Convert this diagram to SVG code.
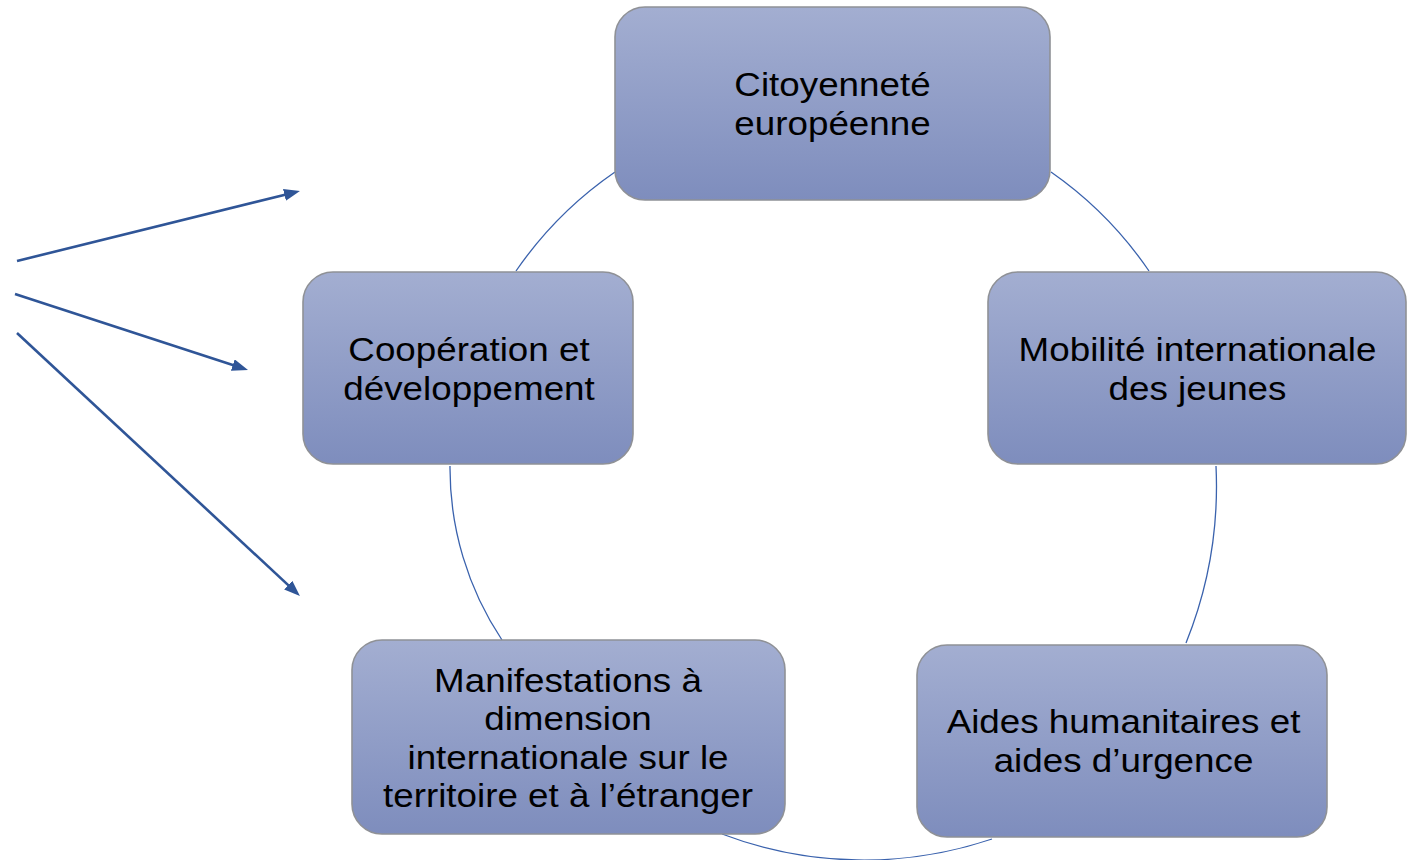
<svg xmlns="http://www.w3.org/2000/svg" width="1412" height="860" viewBox="0 0 1412 860">
<style>
.box{fill:url(#g);stroke:#8f9196;stroke-width:1.6}
.t{font-family:"Liberation Sans",Arial,sans-serif;font-size:33px;fill:#000;text-anchor:middle}
.arc{fill:none;stroke:#3a62ad;stroke-width:1.3}
.arr{fill:none;stroke:#2f5597;stroke-width:2.6;marker-end:url(#ah)}
</style>
<defs>
<linearGradient id="g" x1="0" y1="0" x2="0" y2="1">
<stop offset="0" stop-color="#a3aed1"/>
<stop offset="1" stop-color="#7e8dbd"/>
</linearGradient>
<marker id="ah" markerWidth="17" markerHeight="13" refX="8" refY="6" orient="auto" markerUnits="userSpaceOnUse">
<path d="M0,0 L16,6 L0,12 z" fill="#2f5597"/>
</marker>
</defs>
<g id="connectors">
<path class="arc" d="M516,271 A385,385 0 0 1 615,172"/>
<path class="arc" d="M1051,172 A385,385 0 0 1 1149,271"/>
<path class="arc" d="M1216,466 A420,420 0 0 1 1186,643"/>
<path class="arc" d="M992,839 A400,400 0 0 1 722,834"/>
<path class="arc" d="M502,640 A310,310 0 0 1 450,466"/>
<line class="arr" x1="17" y1="261" x2="292.2" y2="192.9"/>
<line class="arr" x1="15" y1="294" x2="240.4" y2="367.5"/>
<line class="arr" x1="17" y1="333" x2="294.1" y2="590.6"/>
</g>
<g id="n1">
<rect class="box" x="615" y="7" width="435" height="193" rx="30"/>
<g transform="translate(832.5,0) scale(1.115,1)">
<text class="t" x="0" y="96">Citoyenneté</text>
<text class="t" x="0" y="135">européenne</text>
</g>
</g>
<g id="n2">
<rect class="box" x="988" y="272" width="418" height="192" rx="30"/>
<g transform="translate(1197.5,0) scale(1.115,1)">
<text class="t" x="0" y="361">Mobilité internationale</text>
<text class="t" x="0" y="400">des jeunes</text>
</g>
</g>
<g id="n3">
<rect class="box" x="917" y="645" width="410" height="192" rx="30"/>
<g transform="translate(1123.5,0) scale(1.115,1)">
<text class="t" x="0" y="733">Aides humanitaires et</text>
<text class="t" x="0" y="772">aides d’urgence</text>
</g>
</g>
<g id="n4">
<rect class="box" x="352" y="640" width="433" height="194" rx="30"/>
<g transform="translate(568,0) scale(1.115,1)">
<text class="t" x="0" y="692">Manifestations à</text>
<text class="t" x="0" y="730">dimension</text>
<text class="t" x="0" y="769">internationale sur le</text>
<text class="t" x="0" y="807">territoire et à l’étranger</text>
</g>
</g>
<g id="n5">
<rect class="box" x="303" y="272" width="330" height="192" rx="30"/>
<g transform="translate(469,0) scale(1.115,1)">
<text class="t" x="0" y="361">Coopération et</text>
<text class="t" x="0" y="400">développement</text>
</g>
</g>
</svg>
